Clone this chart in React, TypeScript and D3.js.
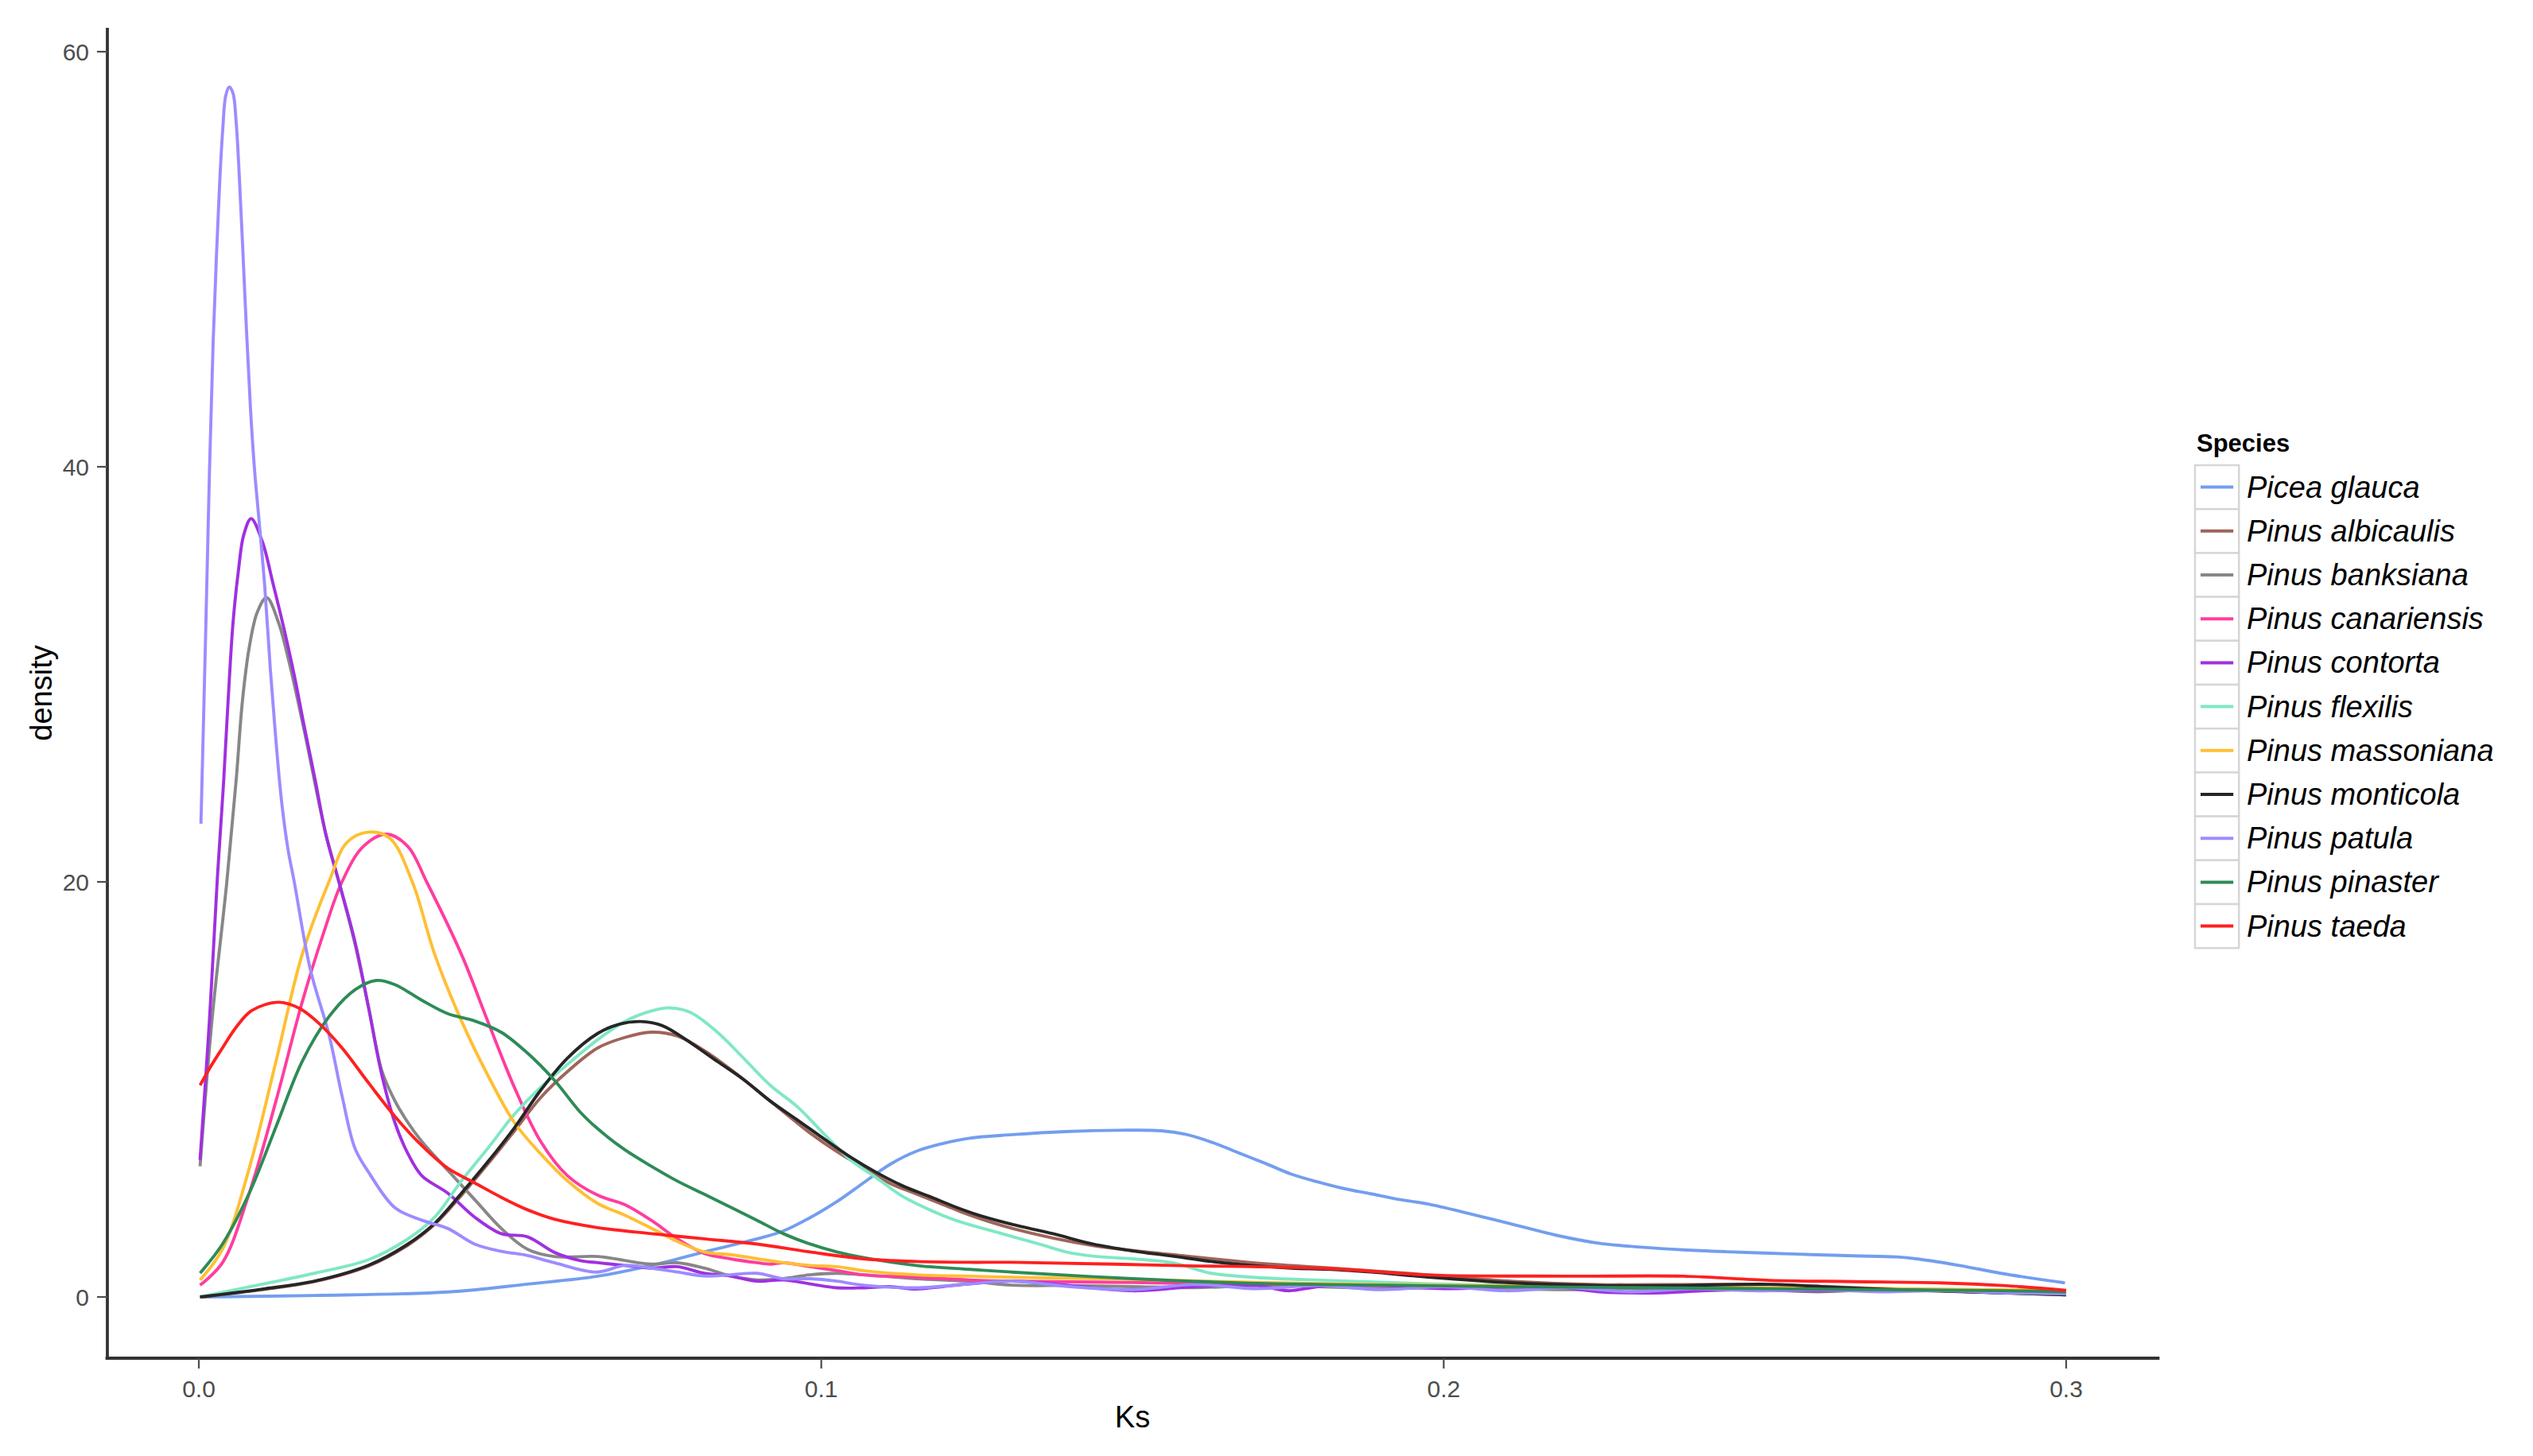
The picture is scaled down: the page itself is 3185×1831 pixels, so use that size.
import React from "react";
import * as d3 from "d3";

type Pt = [number, number];

const speciesNames = [
  "Picea glauca",
  "Pinus albicaulis",
  "Pinus banksiana",
  "Pinus canariensis",
  "Pinus contorta",
  "Pinus flexilis",
  "Pinus massoniana",
  "Pinus monticola",
  "Pinus patula",
  "Pinus pinaster",
  "Pinus taeda",
];

const palette = [
  "#739EEF",
  "#A0645A",
  "#878787",
  "#FF3D9E",
  "#A030E0",
  "#7FE8C4",
  "#FFBF33",
  "#262626",
  "#9C8CFF",
  "#2E8B57",
  "#FF2020",
];

const xTicks = [0, 0.1, 0.2, 0.3];
const yTicks = [0, 20, 40, 60];

const piceaGlauca: Pt[] = [
  [0.0002, 0], [0.0187, 0.07], [0.04, 0.24], [0.0528, 0.62], [0.0641, 1.0], [0.0727, 1.52],
  [0.0812, 2.17], [0.0897, 2.8], [0.0939, 3.18], [0.0982, 3.82], [0.1025, 4.59], [0.1067, 5.48],
  [0.111, 6.38], [0.1152, 7.01], [0.1195, 7.39], [0.1238, 7.65], [0.1306, 7.82], [0.1393, 7.97],
  [0.1478, 8.03], [0.1546, 8.01], [0.1585, 7.84], [0.1627, 7.46], [0.167, 6.95], [0.1713, 6.44],
  [0.1755, 5.92], [0.1798, 5.54], [0.184, 5.22], [0.1883, 4.97], [0.1926, 4.71], [0.1975, 4.48],
  [0.2043, 4.0], [0.2112, 3.49], [0.218, 2.98], [0.2249, 2.59], [0.2317, 2.4], [0.2385, 2.27],
  [0.2454, 2.18], [0.2523, 2.11], [0.2591, 2.04], [0.2659, 1.98], [0.2728, 1.93], [0.2762, 1.83],
  [0.283, 1.51], [0.2899, 1.12], [0.2998, 0.68],
];

const pinusAlbicaulis: Pt[] = [
  [0.0002, 0], [0.0102, 0.35], [0.0187, 0.75], [0.0273, 1.5], [0.0336, 2.5], [0.0379, 3.5],
  [0.0422, 4.9], [0.0464, 6.4], [0.0507, 8.0], [0.0549, 9.6], [0.0592, 10.85], [0.0641, 12.0],
  [0.0684, 12.5], [0.0727, 12.76], [0.0769, 12.57], [0.0812, 11.87], [0.0854, 10.97], [0.0897, 9.95],
  [0.0939, 8.93], [0.0982, 7.9], [0.1025, 7.01], [0.1067, 6.25], [0.111, 5.48], [0.1152, 4.97],
  [0.1195, 4.46], [0.1238, 3.95], [0.1306, 3.31], [0.1436, 2.48], [0.1564, 2.04], [0.1692, 1.65],
  [0.1819, 1.39], [0.1973, 1.07], [0.2112, 0.75], [0.2249, 0.6], [0.2385, 0.6], [0.2523, 0.6],
  [0.2659, 0.45], [0.2796, 0.3], [0.3, 0.1],
];

const pinusBanksiana: Pt[] = [
  [0.0002, 6.3], [0.0021, 13.3], [0.0045, 20.0], [0.006, 24.9], [0.007, 28.7], [0.0081, 31.3],
  [0.0094, 33.0], [0.0109, 33.7], [0.0128, 32.5], [0.0145, 30.6], [0.017, 27.2], [0.0204, 22.3],
  [0.0226, 19.9], [0.0251, 17.0], [0.0273, 13.9], [0.0294, 10.9], [0.0315, 9.45], [0.0336, 8.4],
  [0.0358, 7.5], [0.04, 6.1], [0.0443, 4.7], [0.0486, 3.3], [0.0528, 2.3], [0.0571, 1.95],
  [0.0641, 1.95], [0.0684, 1.76], [0.0727, 1.58], [0.0769, 1.65], [0.0812, 1.39], [0.0854, 1.01],
  [0.0897, 0.82], [0.0939, 0.88], [0.0982, 1.07], [0.1025, 1.14], [0.1067, 1.07], [0.1152, 0.88],
  [0.1238, 0.76], [0.1306, 0.57], [0.14, 0.55], [0.15, 0.5], [0.16, 0.45], [0.17, 0.55],
  [0.18, 0.5], [0.19, 0.4], [0.2, 0.45], [0.21, 0.4], [0.22, 0.35], [0.23, 0.4], [0.24, 0.3],
  [0.25, 0.35], [0.26, 0.25], [0.27, 0.35], [0.28, 0.3], [0.29, 0.2], [0.3, 0.15],
];

const pinusCanariensis: Pt[] = [
  [0.0002, 0.57], [0.0038, 1.65], [0.0081, 5.0], [0.0124, 9.45], [0.0166, 14.2], [0.02, 17.5],
  [0.023, 20.0], [0.0264, 21.7], [0.0302, 22.3], [0.0336, 21.7], [0.0366, 20.0], [0.0422, 16.5],
  [0.0464, 13.3], [0.0507, 10.1], [0.0549, 7.5], [0.0592, 5.85], [0.0641, 4.9], [0.0684, 4.45],
  [0.0727, 3.69], [0.0769, 2.8], [0.0812, 2.1], [0.0854, 1.84], [0.0897, 1.65], [0.0918, 1.58],
  [0.0939, 1.65], [0.0982, 1.46], [0.1025, 1.27], [0.1067, 1.07], [0.1152, 0.95], [0.1238, 0.82],
  [0.1306, 0.76], [0.15, 0.7], [0.17, 0.6], [0.19, 0.55], [0.21, 0.5], [0.23, 0.45], [0.25, 0.4],
  [0.27, 0.35], [0.29, 0.3], [0.3, 0.25],
];

const pinusContorta: Pt[] = [
  [0.0002, 6.6], [0.0017, 13.3], [0.003, 20.3], [0.004, 24.9], [0.0047, 28.7], [0.0055, 32.5],
  [0.0064, 35.1], [0.0072, 36.7], [0.0084, 37.5], [0.0102, 36.4], [0.0119, 34.4], [0.0136, 32.3],
  [0.0153, 30.0], [0.017, 27.4], [0.0187, 24.9], [0.0204, 22.3], [0.0226, 19.9], [0.0251, 17.1],
  [0.0273, 13.9], [0.0294, 10.7], [0.0315, 8.4], [0.0336, 6.9], [0.0358, 5.85], [0.04, 5.0],
  [0.0443, 3.85], [0.0486, 3.05], [0.0528, 2.9], [0.0571, 2.15], [0.0613, 1.75], [0.0641, 1.65],
  [0.0684, 1.52], [0.0727, 1.39], [0.0769, 1.46], [0.0812, 1.14], [0.0854, 1.01], [0.0897, 0.76],
  [0.0939, 0.82], [0.0982, 0.63], [0.1025, 0.44], [0.1067, 0.44], [0.111, 0.5], [0.1152, 0.38],
  [0.1195, 0.5], [0.1238, 0.63], [0.1306, 0.76], [0.14, 0.55], [0.15, 0.3], [0.16, 0.5],
  [0.17, 0.55], [0.175, 0.3], [0.18, 0.5], [0.19, 0.55], [0.2, 0.4], [0.21, 0.5], [0.215, 0.6],
  [0.225, 0.25], [0.235, 0.2], [0.245, 0.35], [0.255, 0.3], [0.265, 0.3], [0.275, 0.35],
  [0.285, 0.3], [0.3, 0.15],
];

const pinusFlexilis: Pt[] = [
  [0.0002, 0], [0.0102, 0.62], [0.0187, 1.15], [0.0273, 1.8], [0.0336, 2.8], [0.0379, 3.85],
  [0.0422, 5.6], [0.0464, 7.15], [0.0507, 8.8], [0.0549, 10.1], [0.0592, 11.2], [0.0641, 12.4],
  [0.0684, 13.27], [0.0727, 13.78], [0.0756, 13.93], [0.079, 13.71], [0.0833, 12.76], [0.0876, 11.48],
  [0.0918, 10.2], [0.0961, 9.18], [0.1003, 7.9], [0.1046, 6.63], [0.1089, 5.73], [0.1131, 4.84],
  [0.1174, 4.2], [0.1216, 3.69], [0.1259, 3.31], [0.1306, 2.92], [0.135, 2.55], [0.1393, 2.17],
  [0.1436, 1.97], [0.15, 1.84], [0.1564, 1.65], [0.1627, 1.14], [0.1692, 0.95], [0.1819, 0.79],
  [0.1973, 0.63], [0.22, 0.5], [0.24, 0.45], [0.26, 0.4], [0.28, 0.35], [0.3, 0.2],
];

const pinusMassoniana: Pt[] = [
  [0.0002, 0.82], [0.0038, 2.3], [0.0081, 6.2], [0.0124, 11.35], [0.0166, 16.5], [0.0209, 20.0],
  [0.0238, 21.9], [0.0273, 22.4], [0.0307, 22.1], [0.0343, 20.0], [0.0379, 16.5], [0.0422, 13.3],
  [0.0464, 10.7], [0.0507, 8.4], [0.0549, 6.9], [0.0592, 5.6], [0.0641, 4.5], [0.0684, 3.95],
  [0.0727, 3.31], [0.0769, 2.67], [0.0812, 2.17], [0.0854, 2.04], [0.0897, 1.84], [0.0939, 1.65],
  [0.0982, 1.52], [0.1025, 1.46], [0.1067, 1.27], [0.1152, 1.07], [0.1238, 1.0], [0.1306, 0.95],
  [0.15, 0.85], [0.17, 0.7], [0.19, 0.6], [0.21, 0.55], [0.23, 0.5], [0.25, 0.45], [0.27, 0.4],
  [0.29, 0.35], [0.3, 0.3],
];

const pinusMonticola: Pt[] = [
  [0.0002, 0], [0.0102, 0.38], [0.0187, 0.77], [0.0273, 1.53], [0.0336, 2.55], [0.0379, 3.55],
  [0.0422, 5.0], [0.0464, 6.5], [0.0507, 8.15], [0.0549, 9.95], [0.0592, 11.5], [0.0641, 12.7],
  [0.0675, 13.14], [0.071, 13.27], [0.0744, 13.08], [0.079, 12.25], [0.0833, 11.35], [0.0876, 10.46],
  [0.0918, 9.44], [0.0961, 8.54], [0.1003, 7.65], [0.1046, 6.76], [0.1089, 5.99], [0.1131, 5.35],
  [0.1174, 4.84], [0.1216, 4.33], [0.1259, 3.88], [0.1306, 3.5], [0.1372, 3.05], [0.1436, 2.55],
  [0.15, 2.22], [0.1564, 1.97], [0.1627, 1.71], [0.1692, 1.52], [0.1755, 1.39], [0.1819, 1.33],
  [0.1883, 1.2], [0.1975, 0.96], [0.2112, 0.68], [0.2249, 0.55], [0.2385, 0.55], [0.2523, 0.61],
  [0.2659, 0.42], [0.2796, 0.29], [0.3, 0.1],
];

const pinusPatula: Pt[] = [
  [0.00034, 22.8], [0.00106, 31.5], [0.00173, 40.0], [0.0023, 46.0], [0.00285, 50.3], [0.00332, 53.5],
  [0.00383, 56.2], [0.00434, 57.9], [0.00489, 58.3], [0.00549, 58.0], [0.006, 56.6], [0.00652, 53.9],
  [0.00703, 50.7], [0.00767, 46.5], [0.0083, 42.8], [0.00894, 39.9], [0.00971, 37.3], [0.0106, 34.2],
  [0.0115, 30.2], [0.01239, 26.8], [0.01329, 23.9], [0.01431, 21.6], [0.01533, 20.0], [0.0179, 15.8],
  [0.0209, 12.65], [0.023, 9.7], [0.0251, 7.15], [0.0273, 6.0], [0.0315, 4.3], [0.0358, 3.7],
  [0.04, 3.3], [0.0443, 2.55], [0.0486, 2.2], [0.0528, 2.0], [0.0571, 1.65], [0.0639, 1.2],
  [0.0684, 1.52], [0.0727, 1.39], [0.0769, 1.2], [0.0812, 1.01], [0.0854, 1.07], [0.0897, 1.14],
  [0.0939, 0.88], [0.0982, 0.88], [0.1025, 0.76], [0.1067, 0.57], [0.1152, 0.44], [0.1238, 0.63],
  [0.1306, 0.76], [0.14, 0.5], [0.15, 0.35], [0.16, 0.6], [0.17, 0.4], [0.18, 0.55], [0.19, 0.35],
  [0.2, 0.5], [0.21, 0.3], [0.22, 0.45], [0.23, 0.25], [0.24, 0.4], [0.25, 0.3], [0.26, 0.35],
  [0.27, 0.25], [0.28, 0.3], [0.29, 0.2], [0.3, 0.15],
];

const pinusPinaster: Pt[] = [
  [0.0002, 1.15], [0.0038, 2.55], [0.0081, 5.0], [0.0124, 8.2], [0.0166, 11.35], [0.0209, 13.5],
  [0.0251, 14.8], [0.0285, 15.25], [0.0315, 15.05], [0.0358, 14.3], [0.04, 13.65], [0.0443, 13.3],
  [0.0486, 12.75], [0.0528, 11.75], [0.0571, 10.45], [0.0613, 8.9], [0.0641, 8.1], [0.0684, 7.1],
  [0.0727, 6.3], [0.0769, 5.58], [0.0812, 4.95], [0.0854, 4.33], [0.0897, 3.69], [0.0939, 3.05],
  [0.0982, 2.55], [0.1025, 2.17], [0.1067, 1.9], [0.1152, 1.52], [0.1238, 1.33], [0.1306, 1.2],
  [0.15, 0.88], [0.17, 0.65], [0.19, 0.57], [0.21, 0.5], [0.23, 0.45], [0.25, 0.4], [0.27, 0.35],
  [0.29, 0.3], [0.3, 0.25],
];

const pinusTaeda: Pt[] = [
  [0.0002, 10.2], [0.0017, 11.0], [0.0038, 12.0], [0.006, 13.0], [0.0085, 13.8], [0.0128, 14.2],
  [0.0162, 13.9], [0.0196, 13.1], [0.023, 12.0], [0.0273, 10.3], [0.0315, 8.7], [0.0358, 7.3],
  [0.04, 6.2], [0.0443, 5.5], [0.0486, 4.8], [0.0528, 4.2], [0.0571, 3.75], [0.0639, 3.35],
  [0.0727, 3.05], [0.0812, 2.8], [0.0897, 2.55], [0.0982, 2.17], [0.1067, 1.84], [0.1152, 1.71],
  [0.1238, 1.67], [0.1306, 1.67], [0.1564, 1.52], [0.1819, 1.36], [0.1975, 1.06], [0.22, 1.0],
  [0.2385, 1.0], [0.2523, 0.8], [0.2659, 0.74], [0.2796, 0.68], [0.2899, 0.55], [0.3, 0.32],
];

const seriesData: Pt[][] = [
  piceaGlauca,
  pinusAlbicaulis,
  pinusBanksiana,
  pinusCanariensis,
  pinusContorta,
  pinusFlexilis,
  pinusMassoniana,
  pinusMonticola,
  pinusPatula,
  pinusPinaster,
  pinusTaeda,
];

const W = 3185;
const H = 1831;
const FONT = "'Liberation Sans', Arial, Helvetica, sans-serif";

export default function App() {
  const x = d3.scaleLinear().domain([0, 0.3]).range([250, 2598]);
  const y = d3.scaleLinear().domain([0, 60]).range([1631, 65]);

  const line = d3
    .line<Pt>()
    .x((d) => x(d[0]))
    .y((d) => y(d[1]))
    .curve(d3.curveCatmullRom.alpha(0.5));

  const axisLeft = 135;
  const axisBottom = 1708;
  const xMinPx = x(-0.015);
  const xMaxPx = x(0.315);
  const yTopPx = y(61.15);

  const legendX = 2760;
  const legendTop = 585;
  const keySize = 55.2;

  return (
    <svg
      width={W}
      height={H}
      style={{ position: "absolute", left: 0, top: 0, background: "#fff" }}
      fontFamily={FONT}
    >
      <rect x={0} y={0} width={W} height={H} fill="#ffffff" />

      <g fill="none" strokeWidth={3.9} strokeLinejoin="round" strokeLinecap="butt">
        {seriesData.map((s, i) => (
          <path key={speciesNames[i]} d={line(s) || ""} stroke={palette[i]} />
        ))}
      </g>

      <line x1={axisLeft} x2={axisLeft} y1={yTopPx} y2={axisBottom + 1.8} stroke="#333" strokeWidth={3.8} />
      <line x1={xMinPx} x2={xMaxPx} y1={axisBottom} y2={axisBottom} stroke="#333" strokeWidth={3.8} />

      {yTicks.map((t) => (
        <g key={"y" + t}>
          <line x1={axisLeft - 13} x2={axisLeft} y1={y(t)} y2={y(t)} stroke="#4d4d4d" strokeWidth={2.2} />
          <text x={112} y={y(t) + 10.5} textAnchor="end" fontSize={30} fill="#4d4d4d">
            {String(t)}
          </text>
        </g>
      ))}

      {xTicks.map((t) => (
        <g key={"x" + t}>
          <line x1={x(t)} x2={x(t)} y1={axisBottom} y2={axisBottom + 13} stroke="#4d4d4d" strokeWidth={2.2} />
          <text x={x(t)} y={1757} textAnchor="middle" fontSize={30} fill="#4d4d4d">
            {d3.format(".1f")(t)}
          </text>
        </g>
      ))}

      <text x={(xMinPx + xMaxPx) / 2} y={1795} textAnchor="middle" fontSize={38} fill="#000">
        Ks
      </text>
      <text
        transform={`translate(65, ${(yTopPx + axisBottom) / 2}) rotate(-90)`}
        textAnchor="middle"
        fontSize={38}
        fill="#000"
      >
        density
      </text>

      <text x={2762} y={568} fontSize={31} fontWeight="bold" fill="#000">
        Species
      </text>
      {speciesNames.map((name, i) => {
        const top = legendTop + i * keySize;
        const cy = top + keySize / 2;
        return (
          <g key={"leg" + name}>
            <rect
              x={legendX}
              y={top}
              width={keySize}
              height={keySize}
              fill="#ffffff"
              stroke="#d6d6d6"
              strokeWidth={2.5}
            />
            <line x1={legendX + 7} x2={legendX + keySize - 7} y1={cy} y2={cy} stroke={palette[i]} strokeWidth={4} />
            <text x={2825} y={cy + 13} fontSize={38} fontStyle="italic" fill="#000">
              {name}
            </text>
          </g>
        );
      })}
    </svg>
  );
}
